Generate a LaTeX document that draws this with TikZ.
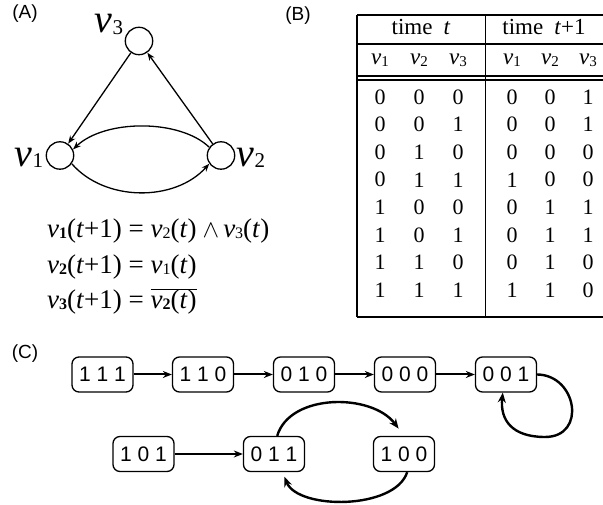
\documentclass[tikz,border=0pt]{standalone}
\usepackage{fontspec}
\setmainfont{Liberation Serif}
\newfontfamily\arialf{Liberation Sans}
\usetikzlibrary{arrows.meta}
\newcommand{\fs}[1]{\fontsize{#1}{#1}\selectfont}
\newcommand{\myv}[3]{\textit{v}\raisebox{#3}{\fs{#2}#1}}
\begin{document}
\begin{tikzpicture}[x=1pt,y=1pt,
  lab/.style={font=\arialf\fs{19},inner sep=0pt},
  vert/.style={circle,draw,line width=1.3pt,minimum size=27.4pt,inner sep=0pt},
  glab/.style={font=\fs{40},inner sep=0pt,anchor=base},
  garr/.style={-{Stealth[length=8pt,width=6pt]},line width=1.3pt},
  eq/.style={anchor=base west,font=\fs{27},inner sep=0pt},
  cell/.style={font=\fs{22},inner sep=0pt},
  hcell/.style={font=\fs{23},inner sep=0pt,anchor=base},
  tline/.style={line width=1.1pt},
  state/.style={draw,rounded corners=7pt,line width=1.3pt,minimum width=61pt,minimum height=35pt,inner sep=0pt,font=\arialf\fs{21}},
  sarr/.style={-{Stealth[length=9pt,width=7pt]},line width=2pt},
  carr/.style={-{Stealth[length=10pt,width=8pt]},line width=2.4pt},
]
\useasboundingbox (0,0) rectangle (603,505);

% panel labels
\node[lab] (LA) at (25,491) {(A)};
\node[lab] (LB) at (298,489) {(B)};
\node[lab] (LC) at (25,151) {(C)};

% (A) graph
\node[vert] (v3) at (139,464) {};
\node[vert] (v1) at (60,349.5) {};
\node[vert] (v2) at (221,349.5) {};
\node[glab] (t3) at (109,472) {\myv{3}{21}{-2pt}};
\node[glab] (t1) at (29,338) {\myv{1}{21}{-1pt}};
\node[glab] (t2) at (251,338) {\myv{2}{21}{-1pt}};
\draw[garr] (v3) -- (v1);
\draw[garr] (v2) -- (v3);
\draw[garr] (v2.145) .. controls (180,386) and (105,386) .. (v1.25);
\draw[garr] (v1.-35) .. controls (105,303) and (175,303) .. (v2.215);

% equations
\node[eq] (e1) at (47,267) {\myv{\bfseries 1}{16}{-1pt}(\textit{t}+1) = \myv{2}{16}{-1pt}(\textit{t})\hspace{6pt}{\fs{34}$\wedge$}\hspace{4pt}\myv{3}{16}{-1pt}(\textit{t})};
\node[eq] (e2) at (47,231) {\myv{\bfseries 2}{16}{-1pt}(\textit{t}+1) = \myv{1}{16}{-1pt}(\textit{t})};
\node[eq] (e3) at (47,196) {\myv{\bfseries 3}{16}{-1pt}(\textit{t}+1) = $\overline{\hbox{\myv{\bfseries 2}{16}{-1pt}(\textit{t})}}$};

% (B) table
\draw[tline] (357,490) -- (603,490);
\draw[tline] (357,461) -- (603,461);
\draw[tline] (357,429) -- (603,429);
\draw[tline] (357,425) -- (603,425);
\draw[tline] (357,188) -- (603,188);
\draw[tline] (357,490) -- (357,188);
\draw[tline] (485.5,490) -- (485.5,188);
\node[hcell] (h1) at (421,470) {time\hspace{11pt}\textit{t}};
\node[hcell] (h2) at (544,470) {time\hspace{11pt}\textit{t}+1};
\foreach \x/\d [count=\k] in {380/1,419/2,458/3,512/1,550/2,588/3}
  \node[hcell] (hv\k) at (\x,440) {\myv{\d}{15}{-2pt}};
\foreach \a/\b/\c/\d/\e/\f [count=\i from 0] in
  {0/0/0/0/0/1,0/0/1/0/0/1,0/1/0/0/0/0,0/1/1/1/0/0,1/0/0/0/1/1,1/0/1/0/1/1,1/1/0/0/1/0,1/1/1/1/1/0}{
  \pgfmathsetmacro\yy{408-27.6*\i}
  \node[cell] (ra\i) at (380,\yy) {\a};
  \node[cell] (rb\i) at (419,\yy) {\b};
  \node[cell] (rc\i) at (458,\yy) {\c};
  \node[cell] (rd\i) at (512,\yy) {\d};
  \node[cell] (re\i) at (550,\yy) {\e};
  \node[cell] (rf\i) at (588,\yy) {\f};
}

% (C) state transition graph
\node[state] (s111) at (102.5,130.5) {1 1 1};
\node[state] (s110) at (203,130.5) {1 1 0};
\node[state] (s010) at (304,130.5) {0 1 0};
\node[state] (s000) at (405,130.5) {0 0 0};
\node[state] (s001) at (506,130.5) {0 0 1};
\node[state] (s101) at (143.5,51) {1 0 1};
\node[state] (s011) at (274,51) {0 1 1};
\node[state] (s100) at (404,51) {1 0 0};
\draw[sarr] (s111) -- (s110);
\draw[sarr] (s110) -- (s010);
\draw[sarr] (s010) -- (s000);
\draw[sarr] (s000) -- (s001);
\draw[sarr] (s101) -- (s011);
\draw[carr] (s001.east) .. controls (577,130) and (587,68) .. (545,68)
  .. controls (512,68) and (500,85) .. (s001.260);
\draw[carr,shorten >=9pt] (s011.80) .. controls (290,112) and (372,112) .. (s100.north);
\draw[carr,shorten >=5pt] (s100.280) .. controls (395,-5) and (298,-5) .. (s011.295);
\end{tikzpicture}
\end{document}
